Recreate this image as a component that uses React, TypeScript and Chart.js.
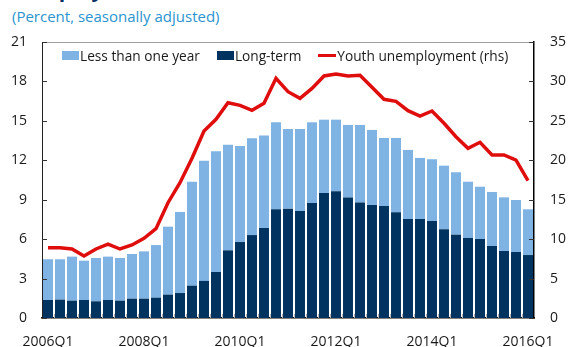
import React, { useEffect, useRef } from "react";
import { Chart, registerables } from "chart.js";

Chart.register(...registerables);

const quarters = [
  "2006Q1","2006Q2","2006Q3","2006Q4",
  "2007Q1","2007Q2","2007Q3","2007Q4",
  "2008Q1","2008Q2","2008Q3","2008Q4",
  "2009Q1","2009Q2","2009Q3","2009Q4",
  "2010Q1","2010Q2","2010Q3","2010Q4",
  "2011Q1","2011Q2","2011Q3","2011Q4",
  "2012Q1","2012Q2","2012Q3","2012Q4",
  "2013Q1","2013Q2","2013Q3","2013Q4",
  "2014Q1","2014Q2","2014Q3","2014Q4",
  "2015Q1","2015Q2","2015Q3","2015Q4",
  "2016Q1",
];

const longTerm = [
  1.37,1.40,1.32,1.37,1.27,1.37,1.32,1.47,1.47,1.55,
  1.78,1.90,2.46,2.82,3.50,5.15,5.78,6.31,6.85,8.27,
  8.32,8.14,8.75,9.51,9.64,9.16,8.78,8.60,8.52,8.04,
  7.53,7.53,7.38,6.75,6.34,6.09,6.01,5.48,5.10,5.02,
  4.79,
];

const lessThanOneYear = [
  3.10,3.07,3.35,2.99,3.30,3.30,3.25,3.40,3.60,4.00,
  5.17,6.17,7.91,9.15,9.18,8.04,7.31,7.36,7.03,6.62,
  6.06,6.24,6.14,5.58,5.45,5.53,5.91,5.71,5.18,5.66,
  5.26,4.65,4.70,4.84,4.75,4.28,3.98,4.11,4.08,3.96,
  3.48,
];

const youthUnemployment = [
  8.92,8.92,8.75,7.86,8.75,9.38,8.75,9.26,10.10,11.33,
  14.62,17.16,20.25,23.71,25.19,27.30,26.97,26.34,27.22,30.39,
  28.70,27.86,29.12,30.69,30.94,30.69,30.77,29.25,27.73,27.47,
  26.29,25.61,26.25,24.69,22.99,21.52,22.28,20.67,20.67,20.03,
  17.41,
];

const LIGHT = "#7fb3e4";
const DARK = "#00335f";
const RED = "#e00d0d";
const FONT = "'Open Sans', 'Noto Sans', sans-serif";

const innerTicks = {
  id: "innerTicks",
  afterDraw(chart: any) {
    const { ctx, chartArea, scales } = chart;
    ctx.save();
    ctx.lineWidth = 1;
    ctx.strokeStyle = "#a0a0a0";
    ctx.beginPath();
    ctx.moveTo(chartArea.left, Math.round(chartArea.top) + 0.5);
    ctx.lineTo(chartArea.right, Math.round(chartArea.top) + 0.5);
    ctx.stroke();
    ctx.strokeStyle = "#333";
    scales.y.ticks.forEach((t: any) => {
      const y = Math.round(scales.y.getPixelForValue(t.value)) + 0.5;
      ctx.beginPath();
      ctx.moveTo(chartArea.left, y);
      ctx.lineTo(chartArea.left + 5, y);
      ctx.stroke();
    });
    scales.y1.ticks.forEach((t: any) => {
      const y = Math.round(scales.y1.getPixelForValue(t.value)) + 0.5;
      ctx.beginPath();
      ctx.moveTo(chartArea.right - 5, y);
      ctx.lineTo(chartArea.right, y);
      ctx.stroke();
    });
    ctx.strokeStyle = "#b0b0b0";
    const xs = scales.x;
    for (let i = 0; i < quarters.length - 1; i++) {
      const x = Math.round((xs.getPixelForValue(i) + xs.getPixelForValue(i + 1)) / 2) + 0.5;
      ctx.beginPath();
      ctx.moveTo(x, chartArea.bottom - 4);
      ctx.lineTo(x, chartArea.bottom);
      ctx.stroke();
    }
    ctx.restore();
  },
};

function ChartView() {
  const ref = useRef<HTMLCanvasElement | null>(null);
  useEffect(() => {
    if (!ref.current) return;
    const chart = new Chart(ref.current, {
      type: "bar",
      data: {
        labels: quarters,
        datasets: [
          {
            type: "line",
            label: "Youth unemployment (rhs)",
            data: youthUnemployment,
            borderColor: RED,
            backgroundColor: RED,
            borderWidth: 3.5,
            pointRadius: 0,
            tension: 0,
            yAxisID: "y1",
            order: 0,
          } as any,
          {
            label: "Long-term",
            data: longTerm,
            backgroundColor: DARK,
            yAxisID: "y",
            stack: "s",
            order: 1,
            barPercentage: 0.83,
            categoryPercentage: 1,
          },
          {
            label: "Less than one year",
            data: lessThanOneYear,
            backgroundColor: LIGHT,
            yAxisID: "y",
            stack: "s",
            order: 1,
            barPercentage: 0.83,
            categoryPercentage: 1,
          },
        ],
      },
      options: {
        responsive: false,
        animation: false,
        devicePixelRatio: 1,
        layout: { padding: { top: 42, left: 0, right: 0, bottom: 0 } },
        plugins: {
          legend: { display: false },
          tooltip: { enabled: false },
        },
        scales: {
          x: {
            stacked: true,
            offset: true,
            grid: { display: false, drawTicks: false },
            border: { display: true, color: "#000", width: 1.5 },
            ticks: {
              autoSkip: false,
              maxRotation: 0,
              padding: 16,
              color: "#1a1a1a",
              font: { family: FONT, size: 14 },
              callback: (_v: any, i: number) => (i % 8 === 0 ? quarters[i] : ""),
            },
            afterFit: (s: any) => {
              s.height = 29;
            },
          },
          y: {
            position: "left",
            stacked: true,
            min: 0,
            max: 21,
            grid: { display: false, drawTicks: false },
            border: { display: true, color: "#222", width: 1 },
            ticks: {
              stepSize: 3,
              padding: 15,
              color: "#1a1a1a",
              font: { family: FONT, size: 14 },
            },
            afterFit: (s: any) => {
              s.width = 42;
            },
          },
          y1: {
            position: "right",
            min: 0,
            max: 35,
            grid: { display: false, drawTicks: false },
            border: { display: true, color: "#000", width: 1.5 },
            ticks: {
              stepSize: 5,
              padding: 16,
              color: "#1a1a1a",
              font: { family: FONT, size: 14 },
            },
            afterFit: (s: any) => {
              s.width = 41;
            },
          },
        },
      },
      plugins: [innerTicks],
    });
    return () => chart.destroy();
  }, []);
  return (
    <canvas
      ref={ref}
      width={575}
      height={347}
      style={{ position: "absolute", left: 0, top: 0, width: 575, height: 347 }}
    />
  );
}

const legendItem: React.CSSProperties = {
  display: "flex",
  alignItems: "center",
  whiteSpace: "nowrap",
};

export default function App() {
  return (
    <div
      style={{
        position: "fixed",
        left: 0,
        top: 0,
        width: 575,
        height: 347,
        overflow: "hidden",
        background: "#fff",
        fontFamily: FONT,
      }}
    >
      <div
        style={{
          position: "absolute",
          left: -4,
          top: -25,
          fontSize: 21,
          fontWeight: 700,
          color: "#0b2f63",
          lineHeight: "normal",
          whiteSpace: "nowrap",
        }}
      >
        Unemployment
      </div>
      <div
        style={{
          position: "absolute",
          left: 12,
          top: 6,
          fontSize: 15,
          color: "#2a94cf",
          whiteSpace: "nowrap",
          lineHeight: "normal",
        }}
      >
        (Percent, seasonally adjusted)
      </div>
      <ChartView />
      <div
        style={{
          position: "absolute",
          left: 62,
          top: 46,
          display: "flex",
          gap: 17,
          fontSize: 13.7,
          color: "#1a1a1a",
          lineHeight: "normal",
          zIndex: 2,
        }}
      >
        <div style={legendItem}>
          <span style={{ display: "inline-block", width: 17, height: 9, background: LIGHT, marginRight: 1 }} />
          Less than one year
        </div>
        <div style={legendItem}>
          <span style={{ display: "inline-block", width: 17, height: 9, background: DARK, marginRight: 1 }} />
          Long-term
        </div>
        <div style={legendItem}>
          <span style={{ display: "inline-block", width: 18, height: 3.5, background: RED, marginRight: 1 }} />
          Youth unemployment (rhs)
        </div>
      </div>
    </div>
  );
}
